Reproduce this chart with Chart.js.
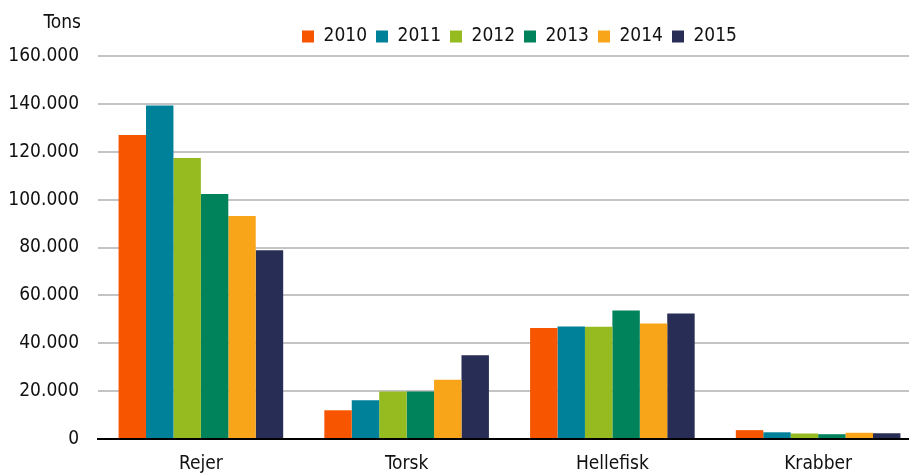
<!DOCTYPE html>
<html>
<head>
<meta charset="utf-8">
<script src="https://cdn.jsdelivr.net/npm/chart.js@4.4.1/dist/chart.umd.min.js"></script>
<style>
html,body{margin:0;padding:0;background:#fff;overflow:hidden;width:909px;height:476px;}
#wrap{width:921px;height:476px;}
</style>
</head>
<body>
<div id="wrap"><canvas id="c" width="921" height="476"></canvas></div>
<script>
const categories = ["Rejer", "Torsk", "Hellefisk", "Krabber"];
const years = ["2010", "2011", "2012", "2013", "2014", "2015"];
const v2010 = [127000, 12000, 46400, 3700];
const v2011 = [139300, 16200, 47000, 2800];
const v2012 = [117400, 19800, 46900, 2300];
const v2013 = [102300, 19800, 53700, 2000];
const v2014 = [93200, 24800, 48200, 2600];
const v2015 = [78900, 35000, 52400, 2400];
const yTicks = [0, 20000, 40000, 60000, 80000, 100000, 120000, 140000, 160000];
const unitLabel = "Tons";

const seriesValues = [v2010, v2011, v2012, v2013, v2014, v2015];
const colors = ["#F75500", "#00819A", "#95BB20", "#00825A", "#F9A51A", "#272D54"];
const FONT = "'DejaVu Sans Condensed', 'Liberation Sans Narrow', sans-serif";
const FS = 19;

const fmt = v => String(v).replace(/\B(?=(\d{3})+(?!\d))/g, ".");

const unitPlugin = {
  id: 'unitLabel',
  afterLayout(chart) {
    const lg = chart.legend;
    if (lg) {
      lg.left = chart.chartArea.left + 20;
      lg.right = chart.chartArea.right;
      lg.width = lg.right - lg.left;
    }
  },
  afterDraw(chart) {
    const ctx = chart.ctx;
    ctx.save();
    ctx.font = FS + "px " + FONT;
    ctx.fillStyle = "#111";
    ctx.textAlign = "right";
    ctx.textBaseline = "middle";
    ctx.fillText(unitLabel, 81, 23);
    ctx.restore();
  }
};

new Chart(document.getElementById('c'), {
  type: 'bar',
  data: {
    labels: categories,
    datasets: years.map((y, i) => ({
      label: y,
      data: seriesValues[i],
      backgroundColor: colors[i],
      borderWidth: 0,
      categoryPercentage: 0.8,
      barPercentage: 1.0
    }))
  },
  options: {
    responsive: false,
    animation: false,
    devicePixelRatio: 1,
    layout: { padding: { top: 18, left: 0, right: 0, bottom: 0 } },
    plugins: {
      legend: {
        position: 'top',
        labels: {
          boxWidth: 12,
          boxHeight: 12,
          padding: 9,
          color: '#111',
          font: { family: FONT, size: FS, lineHeight: 21 / FS }
        }
      },
      tooltip: { enabled: false }
    },
    scales: {
      x: {
        grid: { display: false, drawTicks: false },
        border: { display: true, color: '#000', width: 2 },
        ticks: { color: '#111', padding: 14, font: { family: FONT, size: FS } },
        afterFit: s => { s.height = 37; }
      },
      y: {
        min: 0,
        max: 160000,
        afterBuildTicks: s => { s.ticks = yTicks.map(v => ({ value: v })); },
        grid: { color: '#C4C4C4', lineWidth: 2, drawTicks: false },
        border: { display: false },
        ticks: { color: '#111', padding: 19, font: { family: FONT, size: FS }, callback: v => fmt(v) },
        afterFit: s => { s.width = 98; }
      }
    }
  },
  plugins: [unitPlugin]
});
</script>
</body>
</html>
